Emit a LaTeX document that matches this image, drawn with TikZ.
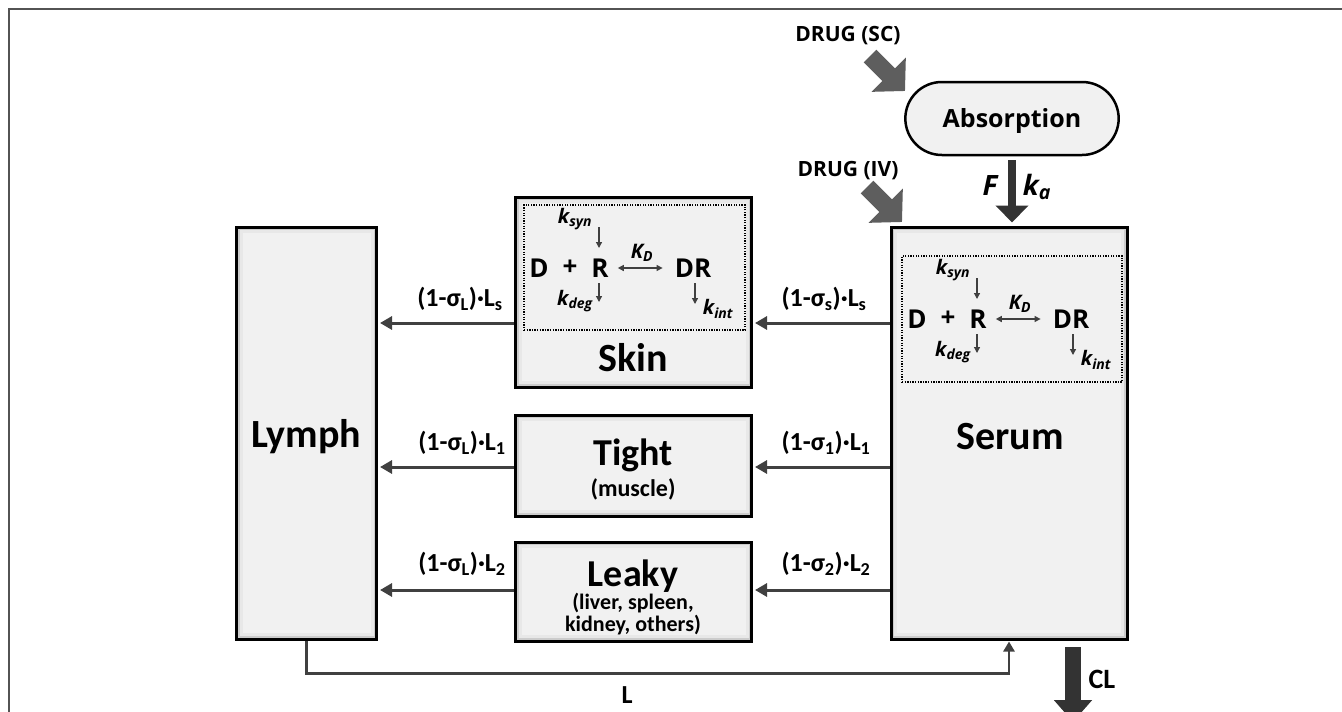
\documentclass[tikz,border=0pt]{standalone}
\usepackage{fontspec}
\setmainfont{Carlito}
\newfontfamily\osans{Open Sans}
\usetikzlibrary{arrows.meta,shapes.misc}
\definecolor{boxfill}{HTML}{F1F1F1}
\definecolor{arr}{HTML}{404040}
\definecolor{fat}{HTML}{333333}
\definecolor{drug}{HTML}{5E5E5E}
\newcommand\kk[1]{k\textsubscript{#1}}
\newcommand\rxn[3]{%
\begin{scope}[shift={(#2,#3)}]
 \node[rx] (#1D) at (539,268) {D};
 \node[rx] (#1plus) at (570,268) {+};
 \node[rx] (#1R) at (600,268) {R};
 \node[rx] (#1DR) at (693,268) {DR};
 \node[kl] (#1ksyn) at (575,219) {\kk{syn}};
 \node[kl] (#1KD) at (642,253) {K\textsubscript{D}};
 \node[kl] (#1kdeg) at (575,301) {\kk{deg}};
 \node[kl] (#1kint) at (718,309) {\kk{int}};
 \coordinate (#1a1) at (599,227); \coordinate (#1a2) at (599,248);
 \coordinate (#1b1) at (599,283); \coordinate (#1b2) at (599,302);
 \coordinate (#1c1) at (695,283); \coordinate (#1c2) at (695,304);
 \draw[tinyarr] (#1a1) -- (#1a2);
 \draw[tinyarr] (#1b1) -- (#1b2);
 \draw[tinyarr] (#1c1) -- (#1c2);
 \draw[tinyarr, {Triangle[length=6pt,width=6pt]}-{Triangle[length=6pt,width=6pt]}, shorten <=9pt, shorten >=12pt] (#1R.east) -- (#1DR.west);
\end{scope}}
\begin{document}
\begin{tikzpicture}[x=1pt,y=-1pt,
  box/.style={draw=black, line width=3pt, fill=boxfill, inner sep=0pt,
    path picture={
      \draw[gray!18, line width=12pt] (path picture bounding box.south west) rectangle (path picture bounding box.north east);
      \draw[gray!40, line width=6pt] (path picture bounding box.south west) rectangle (path picture bounding box.north east);}},
  big/.style={font=\fontsize{40}{44}\selectfont\bfseries, inner sep=0pt},
  mid/.style={font=\fontsize{24}{26}\selectfont\bfseries, inner sep=0pt},
  sml/.style={font=\fontsize{22}{22}\selectfont\bfseries, align=center, inner sep=0pt},
  lbl/.style={font=\fontsize{26}{28}\selectfont\bfseries, inner sep=0pt},
  flow/.style={draw=arr, line width=3pt, -{Triangle[length=12pt,width=13pt]}, shorten >=2pt},
  rx/.style={font=\osans\fontsize{26}{28}\selectfont\bfseries, inner sep=0pt},
  kl/.style={font=\osans\fontsize{20}{22}\selectfont\bfseries\itshape, inner sep=0pt},
  tinyarr/.style={draw=arr, line width=1.3pt, -{Triangle[length=6pt,width=6pt]}},
  dotbox/.style={draw=black, line width=1.3pt, dash pattern=on 1.3pt off 1.3pt, inner sep=0pt},
  drugarr/.style={draw=drug, line width=18pt, -{Triangle[length=23pt,width=47pt]}},
  fatarr/.style={draw=fat, line width=8pt, -{Triangle[length=17pt,width=32pt]}},
  drugtxt/.style={font=\osans\fontsize{21}{24}\selectfont\bfseries, inner sep=0pt}
]
\useasboundingbox (0,0) rectangle (1342,712);
\clip (0,0) rectangle (1342,712);
% frame
\draw[gray!65!black, line width=1.6pt] (9,712) -- (9,9) -- (1342,9);

% boxes
\node[box, minimum width=140pt, minimum height=412pt] (lymph) at (306.5,433) {};
\node[box, minimum width=236pt, minimum height=412pt] (serum) at (1009,433) {};
\node[box, minimum width=236pt, minimum height=190pt] (skin) at (633.5,292) {};
\node[box, minimum width=236pt, minimum height=101pt] (tight) at (633.5,465.5) {};
\node[box, minimum width=236pt, minimum height=99pt] (leaky) at (633.5,591.5) {};

\node[draw=black, line width=2.5pt, rounded rectangle, fill=boxfill,
      minimum width=220pt, minimum height=73pt, text height=18pt, text depth=0pt,
      font=\osans\fontsize{25}{28}\selectfont\bfseries] (absorption) at (1012,118.5) {Absorption};

% box texts
\node[big] (lymphlbl) at (306.5,437) {Lymph};
\node[big] (serumlbl) at (1010,437) {Serum};
\node[big] (skinlbl) at (633,358) {Skin};
\node[big, font=\fontsize{38}{40}\selectfont\bfseries] (tightlbl) at (633,455) {Tight};
\node[mid] (musclelbl) at (633,489) {(muscle)};
\node[big, font=\fontsize{38}{40}\selectfont\bfseries] (leakylbl) at (633,576) {Leaky};
\node[sml] (leakysub) at (633,614) {(liver, spleen,\\kidney, others)};

% dotted reaction areas
\node[dotbox, minimum width=221pt, minimum height=125pt] (skindot) at (634.5,267.5) {};
\node[dotbox, minimum width=220pt, minimum height=126pt] (serumdot) at (1012,319) {};
\rxn{s}{0}{0}
\rxn{p}{378}{51}

% flows
\draw[flow] ([yshift=110pt]serum.west) -- ([yshift=-31pt]skin.east);
\draw[flow] ([yshift=-31pt]skin.west) -- ([yshift=110pt]lymph.east);
\draw[flow] ([yshift=-34pt]serum.west) -- ([yshift=-1.5pt]tight.east);
\draw[flow] ([yshift=-1.5pt]tight.west) -- ([yshift=-34pt]lymph.east);
\draw[flow] ([yshift=-157pt]serum.west) -- ([yshift=1.5pt]leaky.east);
\draw[flow] ([yshift=1.5pt]leaky.west) -- ([yshift=-157pt]lymph.east);

\node[lbl] (l1) at (824,299) {(1-σ\textsubscript{s})·L\textsubscript{s}};
\node[lbl] (l2) at (460,299) {(1-σ\textsubscript{L})·L\textsubscript{s}};
\node[lbl] (l3) at (826,443) {(1-σ\textsubscript{1})·L\textsubscript{1}};
\node[lbl] (l4) at (462,443) {(1-σ\textsubscript{L})·L\textsubscript{1}};
\node[lbl] (l5) at (826,564) {(1-σ\textsubscript{2})·L\textsubscript{2}};
\node[lbl] (l6) at (462,564) {(1-σ\textsubscript{L})·L\textsubscript{2}};

% lymph return
\draw[draw=arr, line width=2.5pt, -{Triangle[length=10pt,width=11pt]}, shorten >=1pt]
  (lymph.south) -- ++(0,33) -| (serum.south);
\node[lbl] (Llbl) at (627,695) {L};

% absorption to serum
\draw[fatarr, shorten <=4pt, shorten >=3pt] (absorption.south) -- (absorption.south |- serum.north);
\node[font=\osans\fontsize{28}{30}\selectfont\bfseries\itshape, inner sep=0pt] (Flbl) at (990,186) {F};
\node[font=\osans\fontsize{28}{30}\selectfont\bfseries\itshape, inner sep=0pt] (kalbl) at (1037,187) {k\textsubscript{a}};

% drug inputs
\node[drugtxt] (sctxt) at (848,36) {DRUG (SC)};
\node[drugtxt] (ivtxt) at (848,171) {DRUG (IV)};
\coordinate (sc1) at (870,56); \coordinate (sc2) at (905,91);
\coordinate (iv1) at (867,187); \coordinate (iv2) at (902,222);
\draw[drugarr] (sc1) -- (sc2);
\draw[drugarr] (iv1) -- (iv2);

% clearance
\coordinate (cl1) at (1073,647); \coordinate (cl2) at (1073,722);
\draw[draw=fat, line width=16pt, -{Triangle[length=22pt,width=37pt]}] (cl1) -- (cl2);
\node[font=\fontsize{28}{30}\selectfont\bfseries, inner sep=0pt] (cllbl) at (1102,679) {CL};
\end{tikzpicture}
\end{document}
